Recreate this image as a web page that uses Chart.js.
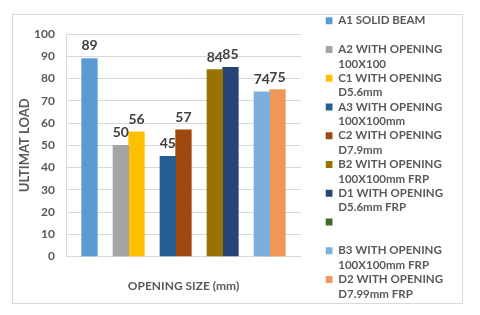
<!DOCTYPE html>
<html>
<head>
<meta charset="utf-8">
<script src="https://cdn.jsdelivr.net/npm/chart.js@4/dist/chart.umd.min.js"></script>
<style>
  body { margin: 0; background: #fff; }
  #frame { position: absolute; left: 12px; top: 14px; width: 449px; height: 288px; border: 1px solid #d9d9d9; }
  #chart { position: absolute; left: 0; top: 0; }
</style>
</head>
<body>
<div id="frame"></div>
<canvas id="chart" width="480" height="315"></canvas>
<script>
// legend entries, in the order Excel lists them
const seriesNames = [
  ['A1 SOLID BEAM', ''],
  ['A2 WITH OPENING', '100X100'],
  ['C1 WITH OPENING', 'D5.6mm'],
  ['A3 WITH OPENING', '100X100mm'],
  ['C2 WITH OPENING', 'D7.9mm'],
  ['B2 WITH OPENING', '100X100mm FRP'],
  ['D1 WITH OPENING', 'D5.6mm FRP'],
  ['', ''],
  ['B3 WITH OPENING', '100X100mm FRP'],
  ['D2 WITH OPENING', 'D7.99mm FRP']
]
const seriesColors = ['#5b9bd5', '#a5a5a5', '#ffc000', '#255e91', '#9e480e',
                      '#997300', '#264478', '#43682b', '#7cafdd', '#f1975a']
const seriesValues = [89, 50, 56, 45, 57, 84, 85, null, 74, 75]
// group on the x axis and slot inside that group for every series
const seriesGroup = [0, 1, 1, 2, 2, 3, 3, null, 4, 4]
const seriesSlot = [1, 0, 1, 0, 1, 0, 1, 2, 0, 1]
const groupLabels = ['', '', '', '', '']
const yMin = 0, yMax = 100, yStep = 10

const grey = '#595959'
Chart.defaults.font.family = 'Lato'

// one bar dataset per slot, coloured bar by bar
const datasets = [0, 1, 2].map(function(s){
  let data = groupLabels.map(() => null)
  let colors = groupLabels.map(() => seriesColors[7])
  seriesValues.forEach(function(v, i){
    if(seriesSlot[i] === s && seriesGroup[i] !== null){
      data[seriesGroup[i]] = v
      colors[seriesGroup[i]] = seriesColors[i]
    }
  })
  return {label: 'slot ' + s, data: data, backgroundColor: colors,
          categoryPercentage: 1, barPercentage: 1}
})

// numbers above bars
const valueLabels = {
  id: 'valueLabels',
  afterDatasetsDraw(chart){
    const ctx = chart.ctx
    ctx.save()
    ctx.font = 'bold 14px Lato'
    ctx.fillStyle = '#404040'
    ctx.textAlign = 'center'
    ctx.textBaseline = 'alphabetic'
    chart.data.datasets.forEach(function(ds, i){
      chart.getDatasetMeta(i).data.forEach(function(bar, j){
        if(ds.data[j] == null) return
        ctx.fillText(ds.data[j], bar.x, bar.y - 8)
      })
    })
    ctx.restore()
  }
}

const ctx = document.getElementById('chart').getContext('2d')
const myChart = new Chart(ctx, {
  type: 'bar',
  data: {labels: groupLabels, datasets: datasets},
  plugins: [valueLabels],
  options: {
    responsive: false,
    animation: false,
    devicePixelRatio: 1,
    layout: {padding: {left: 12, top: 15, right: 27, bottom: 0}},
    scales: {
      x: {
        grid: {display: false, drawTicks: false},
        border: {color: '#d9d9d9'},
        ticks: {display: false},
        title: {display: true, text: 'OPENING SIZE (mm)', color: grey,
                font: {size: 12, weight: 'bold'}, padding: {top: 22, bottom: 22}}
      },
      // empty room above the plot
      x2: {
        position: 'top', grid: {display: false}, border: {display: false},
        ticks: {display: false},
        afterFit: function(s){ s.height = 19 }
      },
      y: {
        min: yMin, max: yMax,
        ticks: {stepSize: yStep, color: grey, padding: 11, font: {size: 12, weight: 'bold'}},
        grid: {color: '#d9d9d9', drawTicks: false},
        border: {color: '#d9d9d9'},
        title: {display: true, text: 'ULTIMAT LOAD', color: grey,
                font: {size: 13, weight: 'bold'}, padding: {top: 5, bottom: 0}},
        afterFit: function(s){ s.width = 54 }
      },
      // gap between plot and legend
      y2: {
        position: 'right', grid: {display: false}, border: {display: false},
        ticks: {display: false},
        afterFit: function(s){ s.width = 24.5 }
      }
    },
    plugins: {
      tooltip: {enabled: false},
      legend: {
        position: 'right',
        align: 'start',
        maxWidth: 200,
        labels: {
          boxWidth: 7, boxHeight: 7, padding: 0, color: grey,
          font: {size: 11.5, weight: 'bold', lineHeight: 1.25},
          generateLabels: function(){
            return seriesNames.map(function(name, i){
              return {text: name, fillStyle: seriesColors[i], strokeStyle: seriesColors[i],
                      lineWidth: 0, hidden: false, fontColor: grey}
            })
          }
        }
      }
    }
  }
})
</script>
</body>
</html>
